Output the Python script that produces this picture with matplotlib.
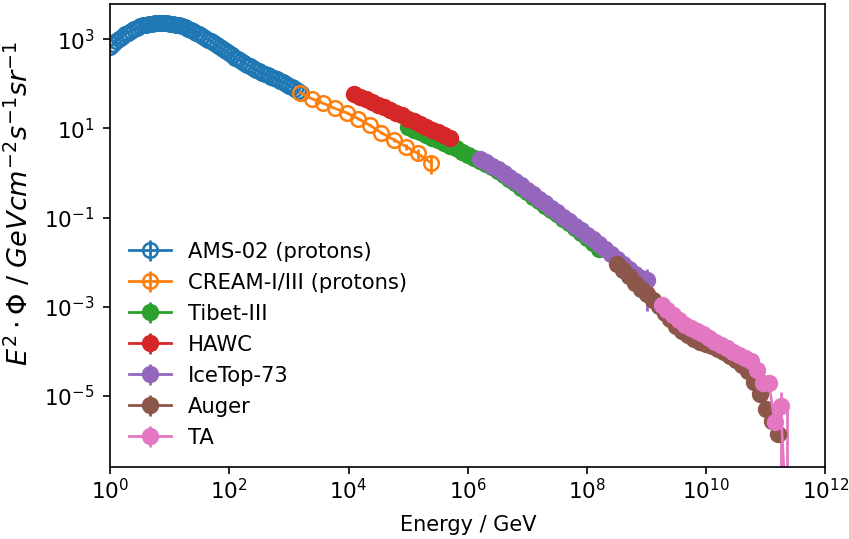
import numpy as np
import matplotlib
matplotlib.use("Agg")
import matplotlib.pyplot as plt
from matplotlib.ticker import NullLocator

# log10(E / GeV) and log10(E^2 * flux) for each experiment
ams_log_e = [0.00, 0.05, 0.10, 0.15, 0.20, 0.25, 0.30, 0.35, 0.40, 0.45, 0.50, 0.55, 0.60, 0.65,
             0.70, 0.75, 0.80, 0.85, 0.90, 0.95, 1.00, 1.05, 1.10, 1.15, 1.20, 1.25, 1.30, 1.35,
             1.40, 1.45, 1.50, 1.55, 1.60, 1.65, 1.70, 1.75, 1.80, 1.85, 1.90, 1.95, 2.00, 2.05,
             2.10, 2.15, 2.20, 2.25, 2.30, 2.35, 2.40, 2.45, 2.50, 2.55, 2.60, 2.65, 2.70, 2.75,
             2.80, 2.85, 2.90, 2.95, 3.00, 3.05, 3.10, 3.15, 3.20]
ams_log_flux = [2.82, 2.89, 2.95, 3.01, 3.06, 3.11, 3.15, 3.19, 3.23, 3.26, 3.29, 3.31, 3.33, 3.34,
                3.35, 3.355, 3.36, 3.36, 3.36, 3.355, 3.35, 3.34, 3.33, 3.31, 3.29, 3.265, 3.24, 3.21,
                3.18, 3.145, 3.11, 3.07, 3.03, 2.99, 2.95, 2.905, 2.86, 2.815, 2.77, 2.725, 2.68, 2.635,
                2.59, 2.55, 2.51, 2.47, 2.43, 2.39, 2.35, 2.315, 2.28, 2.25, 2.22, 2.19, 2.16, 2.13,
                2.10, 2.065, 2.03, 1.995, 1.96, 1.92, 1.88, 1.84, 1.80]
ams_rel_err = 0.02

cream_log_e = [3.19, 3.38, 3.58, 3.77, 3.97, 4.16, 4.36, 4.55, 4.77, 4.97, 5.16, 5.38]
cream_log_flux = [1.80, 1.67, 1.56, 1.45, 1.35, 1.22, 1.07, 0.90, 0.74, 0.59, 0.44, 0.23]
cream_rel_err = [0.03, 0.03, 0.03, 0.04, 0.04, 0.05, 0.06, 0.08, 0.10, 0.15, 0.25, 0.45]

tibet_log_e = [5.0, 5.1, 5.2, 5.3, 5.4, 5.5, 5.6, 5.7, 5.8, 5.9, 6.0, 6.1, 6.2, 6.3, 6.4, 6.5, 6.6,
               6.7, 6.8, 6.9, 7.0, 7.1, 7.2, 7.3, 7.4, 7.5, 7.6, 7.7, 7.8, 7.9, 8.0, 8.1, 8.2]
tibet_log_flux = [1.03, 0.97, 0.91, 0.85, 0.79, 0.73, 0.67, 0.61, 0.55, 0.48, 0.41, 0.34, 0.27,
                  0.20, 0.13, 0.05, -0.04, -0.13, -0.23, -0.33, -0.43, -0.53, -0.63, -0.73, -0.83,
                  -0.93, -1.03, -1.13, -1.24, -1.35, -1.46, -1.58, -1.70]
tibet_rel_err = 0.05

hawc_log_e = [4.1, 4.2, 4.3, 4.4, 4.5, 4.6, 4.7, 4.8, 4.9, 5.0, 5.1, 5.2, 5.3, 5.4, 5.5, 5.6, 5.7]
hawc_log_flux = [1.77, 1.71, 1.65, 1.59, 1.53, 1.47, 1.41, 1.35, 1.29, 1.22, 1.16, 1.10, 1.04,
                 0.97, 0.91, 0.85, 0.79]
hawc_rel_err = 0.05

icetop_log_e = [6.2, 6.3, 6.4, 6.5, 6.6, 6.7, 6.8, 6.9, 7.0, 7.1, 7.2, 7.3, 7.4, 7.5, 7.6, 7.7,
                7.8, 7.9, 8.0, 8.1, 8.2, 8.3, 8.4, 8.5, 8.6, 8.7, 8.8, 8.9, 9.0]
icetop_log_flux = [0.31, 0.24, 0.16, 0.08, -0.01, -0.09, -0.18, -0.28, -0.38, -0.48, -0.58, -0.68,
                   -0.78, -0.88, -0.98, -1.08, -1.18, -1.28, -1.38, -1.49, -1.60, -1.71, -1.82,
                   -1.93, -2.04, -2.15, -2.27, -2.36, -2.40]
icetop_rel_err = [0.03] * 25 + [0.05, 0.08, 0.2, 0.8]

auger_log_e = [8.5, 8.6, 8.7, 8.8, 8.9, 9.0, 9.1, 9.2, 9.3, 9.4, 9.5, 9.6, 9.7, 9.8, 9.9, 10.0,
               10.1, 10.2, 10.3, 10.4, 10.5, 10.6, 10.7, 10.8, 10.9, 11.0, 11.1, 11.2]
auger_log_flux = [-2.05, -2.18, -2.32, -2.46, -2.59, -2.72, -2.85, -2.99, -3.13, -3.28, -3.42,
                  -3.54, -3.64, -3.72, -3.79, -3.84, -3.89, -3.95, -4.02, -4.10, -4.19, -4.30,
                  -4.45, -4.68, -4.95, -5.30, -5.55, -5.85]
auger_rel_err = [0.02] * 22 + [0.04, 0.06, 0.1, 0.15, 0.2, 0.3]

ta_log_e = [9.25, 9.35, 9.45, 9.55, 9.65, 9.75, 9.85, 9.95, 10.05, 10.15, 10.25, 10.35, 10.45,
            10.55, 10.65, 10.75, 10.85, 10.95, 11.05, 11.15, 11.25, 11.35]
ta_log_flux = [-2.95, -3.07, -3.19, -3.30, -3.40, -3.48, -3.55, -3.62, -3.69, -3.78, -3.85, -3.93,
               -4.01, -4.09, -4.15, -4.22, -4.42, -4.71, -4.71, -5.59, -5.22, -8.0]
ta_err_lo = [0.03] * 16 + [0.05, 0.1, 0.15, 0.3, 0.999, 0.5]
ta_err_hi = [0.03] * 16 + [0.05, 0.1, 0.15, 0.3, 1.0, 478.0]


def plot_set(ax, log_e, log_flux, err_lo, err_hi, label, color, hollow=False):
    e = 10 ** np.asarray(log_e)
    f = 10 ** np.asarray(log_flux)
    yerr = [f * np.asarray(err_lo), f * np.asarray(err_hi)]
    if hollow:
        ax.errorbar(e, f, yerr=yerr, marker='o', ms=10.5, mfc='none', mec=color, mew=1.8,
                    color=color, lw=2, label=label)
    else:
        ax.errorbar(e, f, yerr=yerr, marker='o', ms=11.5, color=color, lw=2, label=label)


fig, ax = plt.subplots(figsize=(8.49, 5.39), dpi=100)
fig.subplots_adjust(left=0.1296, right=0.9723, top=0.9926, bottom=0.1342)

plot_set(ax, ams_log_e, ams_log_flux, ams_rel_err, ams_rel_err, 'AMS-02 (protons)', 'C0', hollow=True)
plot_set(ax, cream_log_e, cream_log_flux, cream_rel_err, cream_rel_err, 'CREAM-I/III (protons)', 'C1', hollow=True)
plot_set(ax, tibet_log_e, tibet_log_flux, tibet_rel_err, tibet_rel_err, 'Tibet-III', 'C2')
plot_set(ax, hawc_log_e, hawc_log_flux, hawc_rel_err, hawc_rel_err, 'HAWC', 'C3')
plot_set(ax, icetop_log_e, icetop_log_flux, icetop_rel_err, icetop_rel_err, 'IceTop-73', 'C4')
plot_set(ax, auger_log_e, auger_log_flux, auger_rel_err, auger_rel_err, 'Auger', 'C5')
plot_set(ax, ta_log_e, ta_log_flux, ta_err_lo, ta_err_hi, 'TA', 'C6')

ax.set_xscale('log')
ax.set_yscale('log')
ax.set_xlim(1e0, 1e12)
ax.set_ylim(10 ** -6.585, 10 ** 3.79)
ax.set_xticks([10.0 ** k for k in range(0, 13, 2)])
ax.set_yticks([10.0 ** k for k in range(-5, 4, 2)])
ax.xaxis.set_minor_locator(NullLocator())
ax.yaxis.set_minor_locator(NullLocator())
ax.tick_params(labelsize=15.5, length=5, width=1.2)
ax.tick_params(axis='y', pad=6)
for s in ax.spines.values():
    s.set_linewidth(1.2)

ax.set_xlabel('Energy / GeV', fontsize=15, labelpad=8)
ax.set_ylabel(r'$E^2 \cdot \Phi$ / $GeV cm^{-2} s^{-1} sr^{-1}$', fontsize=19.5)
ax.yaxis.set_label_coords(-0.106, 0.57)
ax.legend(loc='lower left', frameon=False, fontsize=15.2, labelspacing=0.52)

fig.savefig('out.png', dpi=100)
